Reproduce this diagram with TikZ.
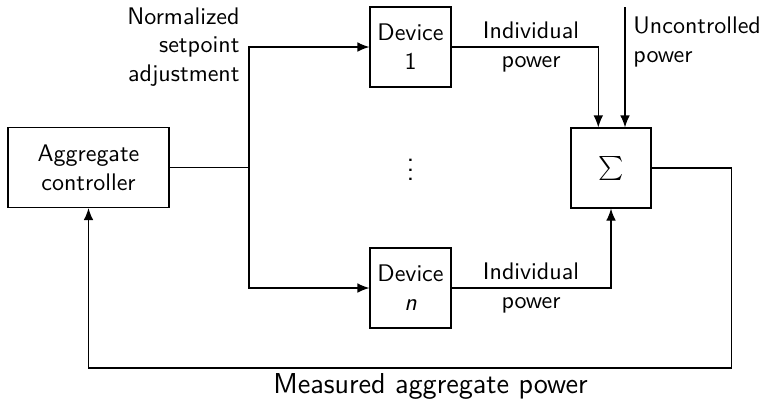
\documentclass[tikz,border=0pt]{standalone}
\usetikzlibrary{arrows.meta}
\renewcommand{\familydefault}{\sfdefault}
\begin{document}
\begin{tikzpicture}[x=0.01465cm,y=-0.01465cm,
  blk/.style={draw,line width=0.5pt,inner sep=0pt,align=center,font=\sffamily},
  lbl/.style={align=center,font=\sffamily,inner sep=0pt},
  arr/.style={-{Latex[length=5pt,width=4pt]},line width=0.5pt},
  ln/.style={line width=0.5pt}]
\useasboundingbox (0,0) rectangle (766,398);
\node[blk,minimum width=161*0.01465cm,minimum height=80*0.01465cm] (ctrl) at (88.5,167.5) {Aggregate\\controller};
\node[blk,minimum width=81*0.01465cm,minimum height=80*0.01465cm] (dev1) at (410.5,47) {Device\\1};
\node[blk,minimum width=81*0.01465cm,minimum height=80*0.01465cm] (devn) at (410.5,288) {Device\\\textit{n}};
\node[blk,minimum width=80*0.01465cm,minimum height=80*0.01465cm] (sum) at (611,168) {$\sum$};
\node[lbl,font=\large] (dots) at (410.5,163) {$\vdots$};
\coordinate (br) at (249,167.5);
\coordinate (unc) at (625,7);
\coordinate (fb) at (731.5,368);
\draw[ln] (ctrl.east) -- (br);
\draw[arr] (br) |- (dev1.west);
\draw[arr] (br) |- (devn.west);
\draw[arr] (dev1.east) -| ([xshift=-12.7*0.01465cm]sum.north);
\draw[arr] (unc) -- (unc |- sum.north);
\draw[arr] (devn.east) -| (sum.south);
\draw[arr] (sum.east) -| (fb) -| (ctrl.south);
\node[lbl,align=right,anchor=east] (norm) at (240,47) {Normalized\\setpoint\\adjustment};
\node[lbl] (ip1) at (531,47) {Individual\\power};
\node[lbl] (ipn) at (531,288) {Individual\\power};
\node[lbl,align=left,anchor=west] (uncl) at (633,42) {Uncontrolled\\power};
\node[lbl,font=\large\sffamily] (meas) at (430.5,386) {Measured aggregate power};
\end{tikzpicture}
\end{document}
